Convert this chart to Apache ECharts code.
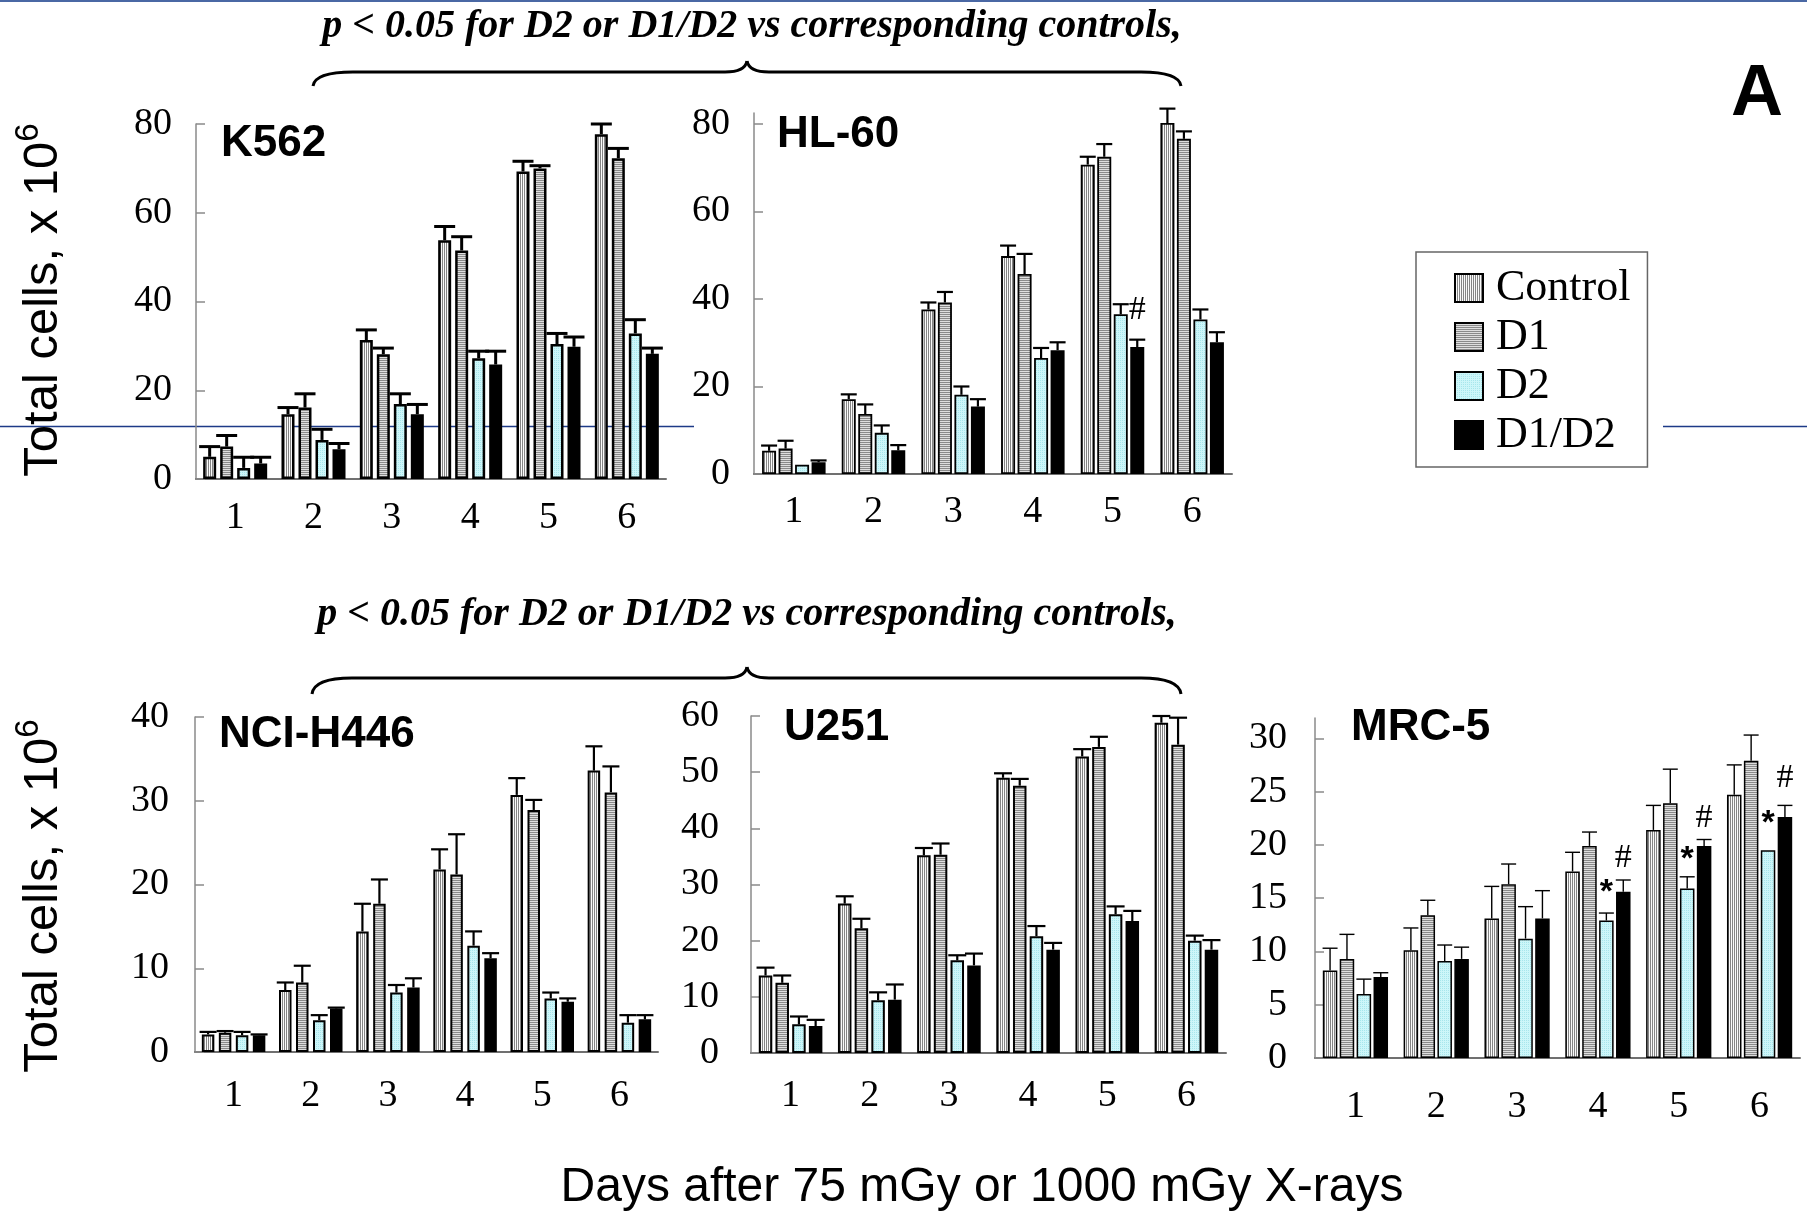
<!DOCTYPE html>
<html>
<head>
<meta charset="utf-8">
<title>Total cells after X-rays</title>
<script src="https://cdn.jsdelivr.net/npm/echarts@6/dist/echarts.min.js"></script>
<style>
  html, body { margin: 0; padding: 0; background: #fff; }
  #chart { width: 1807px; height: 1214px; }
</style>
</head>
<body>
<div id="chart"></div>
<script>
var days = ["1", "2", "3", "4", "5", "6"];
var groups = ["Control", "D1", "D2", "D1/D2"];

// K562
var k562Control = [5.0, 14.6, 31.3, 53.8, 69.3, 77.7];
var k562ControlSd = [2.3, 1.5, 2.3, 3.1, 2.3, 2.3];
var k562D1 = [7.3, 16.1, 28.1, 51.5, 70.0, 72.3];
var k562D1Sd = [2.5, 3.1, 1.4, 3.1, 0.6, 2.2];
var k562D2 = [2.5, 8.8, 16.9, 27.2, 30.4, 32.8];
var k562D2Sd = [2.4, 2.4, 2.3, 1.6, 2.4, 3.1];
var k562D1D2 = [3.5, 6.7, 14.6, 25.8, 29.8, 28.2];
var k562D1D2Sd = [1.4, 1.3, 2.2, 3.0, 2.2, 1.3];

// HL-60
var hl60Control = [5.3, 17.1, 37.6, 49.8, 70.7, 80.2];
var hl60ControlSd = [1.2, 1.1, 1.6, 2.4, 1.8, 3.3];
var hl60D1 = [5.8, 13.7, 39.2, 45.7, 72.5, 76.6];
var hl60D1Sd = [1.8, 2.2, 2.4, 4.6, 2.9, 1.7];
var hl60D2 = [2.1, 9.4, 18.1, 26.5, 36.5, 35.3];
var hl60D2Sd = [0, 1.7, 1.9, 2.3, 2.3, 2.3];
var hl60D1D2 = [2.7, 5.4, 15.4, 28.3, 29.0, 30.1];
var hl60D1D2Sd = [0.4, 1.2, 1.7, 1.8, 1.7, 2.3];
var hl60Marks = [[4, 3, 37.5, "#"]];

// NCI-H446
var nciControl = [2.1, 7.4, 14.4, 21.8, 30.7, 33.6];
var nciControlSd = [0.3, 0.9, 3.3, 2.4, 2.0, 2.9];
var nciD1 = [2.3, 8.3, 17.7, 21.2, 28.9, 31.0];
var nciD1Sd = [0.2, 2.0, 2.9, 4.8, 1.2, 3.1];
var nciD2 = [2.0, 3.8, 7.1, 12.7, 6.4, 3.5];
var nciD2Sd = [0.4, 0.6, 0.9, 1.7, 0.7, 0.9];
var nciD1D2 = [2.0, 5.2, 7.7, 11.2, 6.0, 3.9];
var nciD1D2Sd = [0.1, 0.1, 1.1, 0.6, 0.4, 0.5];

// U251
var u251Control = [13.8, 26.6, 35.2, 49.0, 52.8, 58.8];
var u251ControlSd = [1.4, 1.3, 1.3, 0.8, 1.3, 1.2];
var u251D1 = [12.5, 22.2, 35.3, 47.6, 54.5, 54.9];
var u251D1Sd = [1.3, 1.7, 2.0, 1.2, 1.8, 4.8];
var u251D2 = [5.1, 9.4, 16.5, 20.8, 24.7, 20.0];
var u251D2Sd = [1.4, 1.4, 0.9, 1.8, 1.4, 0.9];
var u251D1D2 = [4.8, 9.5, 15.6, 18.4, 23.5, 18.4];
var u251D1D2Sd = [1.1, 2.7, 2.1, 1.2, 1.8, 1.7];

// MRC-5
var mrc5Control = [8.2, 10.1, 13.1, 17.5, 21.4, 24.7];
var mrc5ControlSd = [2.1, 2.1, 3.0, 1.8, 2.3, 2.8];
var mrc5D1 = [9.3, 13.4, 16.3, 19.9, 23.9, 27.9];
var mrc5D1Sd = [2.3, 1.4, 1.9, 1.3, 3.2, 2.4];
var mrc5D2 = [6.0, 9.1, 11.2, 12.9, 15.9, 19.5];
var mrc5D2Sd = [1.4, 1.5, 3.0, 0.7, 1.1, 0];
var mrc5D1D2 = [7.6, 9.3, 13.1, 15.6, 19.9, 22.6];
var mrc5D1D2Sd = [0.4, 1.1, 2.6, 1.1, 0.6, 1.1];
// [day index, group index, value, text]
var mrc5Marks = [
  [3, 2, 15.5, "*"], [3, 3, 18.8, "#"],
  [4, 2, 18.6, "*"], [4, 3, 22.5, "#"],
  [5, 2, 22.0, "*"], [5, 3, 26.3, "#"]
];

var ticks80 = [0, 20, 40, 60, 80];
var ticks40 = [0, 10, 20, 30, 40];
var ticks60 = [0, 10, 20, 30, 40, 50, 60];
var ticks30 = [0, 5, 10, 15, 20, 25, 30];

var SERIF = "Liberation Serif";
var SANS = "Liberation Sans";

function makePattern(draw) {
  var c = document.createElement("canvas");
  c.width = 2;
  c.height = 2;
  draw(c.getContext("2d"));
  return { image: c, repeat: "repeat" };
}

var fills = [
  makePattern(function (ctx) { // vertical stripes
    ctx.fillStyle = "#fafafa"; ctx.fillRect(0, 0, 2, 2);
    ctx.fillStyle = "#858585"; ctx.fillRect(0, 0, 1, 2);
  }),
  makePattern(function (ctx) { // horizontal stripes
    ctx.fillStyle = "#dedede"; ctx.fillRect(0, 0, 2, 2);
    ctx.fillStyle = "#8a8a8a"; ctx.fillRect(0, 0, 2, 1);
  }),
  makePattern(function (ctx) { // dotted light cyan
    ctx.fillStyle = "#cdf6f9"; ctx.fillRect(0, 0, 2, 2);
    ctx.fillStyle = "#a8e6ec"; ctx.fillRect(0, 0, 1, 1);
  }),
  "#000000"
];

var panels = [
  {
    name: "K562", titlePos: [221, 144],
    means: [k562Control, k562D1, k562D2, k562D1D2],
    sds: [k562ControlSd, k562D1Sd, k562D2Sd, k562D1D2Sd],
    ticks: ticks80, yMax: 80, marks: [],
    grid: { left: 196, top: 124, width: 470, height: 355 },
    barWidth: 13, pitch: 17, border: 2.5, errWidth: 3, capHalf: 10.5, yMargin: 24, xMargin: 20
  },
  {
    name: "HL-60", titlePos: [777, 135],
    means: [hl60Control, hl60D1, hl60D2, hl60D1D2],
    sds: [hl60ControlSd, hl60D1Sd, hl60D2Sd, hl60D1D2Sd],
    ticks: ticks80, yMax: 82.5, marks: hl60Marks,
    grid: { left: 754, top: 113, width: 478, height: 361 },
    barWidth: 14, pitch: 16.5, border: 1.8, errWidth: 2.2, capHalf: 8, yMargin: 24, xMargin: 19
  },
  {
    name: "NCI-H446", titlePos: [219, 735],
    means: [nciControl, nciD1, nciD2, nciD1D2],
    sds: [nciControlSd, nciD1Sd, nciD2Sd, nciD1D2Sd],
    ticks: ticks40, yMax: 40, marks: [],
    grid: { left: 195, top: 717, width: 463, height: 335 },
    barWidth: 12.5, pitch: 17, border: 2, errWidth: 2.2, capHalf: 8.5, yMargin: 26, xMargin: 25
  },
  {
    name: "U251", titlePos: [784, 728],
    means: [u251Control, u251D1, u251D2, u251D1D2],
    sds: [u251ControlSd, u251D1Sd, u251D2Sd, u251D1D2Sd],
    ticks: ticks60, yMax: 60, marks: [],
    grid: { left: 751, top: 716, width: 475, height: 337 },
    barWidth: 13.5, pitch: 16.7, border: 2, errWidth: 2.2, capHalf: 9, yMargin: 32, xMargin: 24
  },
  {
    name: "MRC-5", titlePos: [1351, 728],
    means: [mrc5Control, mrc5D1, mrc5D2, mrc5D1D2],
    sds: [mrc5ControlSd, mrc5D1Sd, mrc5D2Sd, mrc5D1D2Sd],
    ticks: ticks30, yMax: 31.9, marks: mrc5Marks,
    grid: { left: 1315, top: 718, width: 485, height: 340 },
    barWidth: 14.5, pitch: 16.9, border: 1.5, errWidth: 1.4, capHalf: 7.5, yMargin: 28, xMargin: 30
  }
];

var grids = [];
var xAxes = [];
var yAxes = [];
var series = [];
var graphics = [];

panels.forEach(function (p, i) {
  grids.push(p.grid);

  xAxes.push({
    type: "category",
    gridIndex: i,
    data: days,
    axisLine: { lineStyle: { color: "#707070", width: 2 } },
    axisTick: { show: false },
    axisLabel: { color: "#000", fontFamily: SERIF, fontSize: 38, margin: p.xMargin }
  });

  yAxes.push({
    type: "value",
    gridIndex: i,
    min: 0,
    max: p.yMax,
    splitLine: { show: false },
    axisLine: { show: true, lineStyle: { color: "#8a8a8a", width: 1.5 } },
    axisTick: { show: true, inside: true, length: 9, customValues: p.ticks,
      lineStyle: { color: "#8a8a8a", width: 1.5 } },
    axisLabel: { color: "#000", fontFamily: SERIF, fontSize: 38, margin: p.yMargin,
      customValues: p.ticks }
  });

  var gap = ((p.pitch - p.barWidth) / p.barWidth * 100).toFixed(1) + "%";

  groups.forEach(function (g, k) {
    series.push({
      name: g,
      type: "bar",
      xAxisIndex: i,
      yAxisIndex: i,
      data: p.means[k],
      barWidth: p.barWidth,
      barGap: gap,
      itemStyle: { color: fills[k], borderColor: "#000", borderWidth: p.border }
    });
  });

  // error bars (upper side only)
  var errData = [];
  p.means.forEach(function (arr, k) {
    arr.forEach(function (v, d) {
      if (p.sds[k][d] > 0) {
        errData.push([d, v, v + p.sds[k][d], k]);
      }
    });
  });

  series.push({
    type: "custom",
    xAxisIndex: i,
    yAxisIndex: i,
    silent: true,
    z: 3,
    encode: { x: 0, y: [1, 2] },
    data: errData,
    renderItem: function (params, api) {
      var off = (api.value(3) - 1.5) * p.pitch;
      var base = api.coord([api.value(0), api.value(1)]);
      var top = api.coord([api.value(0), api.value(2)]);
      var x = base[0] + off;
      var st = { stroke: "#000", lineWidth: p.errWidth };
      return {
        type: "group",
        children: [
          { type: "line", shape: { x1: x, y1: base[1], x2: x, y2: top[1] }, style: st },
          { type: "line", shape: { x1: x - p.capHalf, y1: top[1], x2: x + p.capHalf, y2: top[1] }, style: st }
        ]
      };
    }
  });

  if (p.marks.length) {
    series.push({
      type: "custom",
      xAxisIndex: i,
      yAxisIndex: i,
      silent: true,
      z: 4,
      encode: { x: 0, y: 2 },
      data: p.marks.map(function (m) { return [m[0], m[1], m[2]]; }),
      renderItem: function (params, api) {
        var pt = api.coord([api.value(0), api.value(2)]);
        var txt = p.marks[params.dataIndex][3];
        var star = txt === "*";
        return {
          type: "text",
          x: pt[0] + (api.value(1) - 1.5) * p.pitch,
          y: pt[1],
          style: {
            text: txt,
            fill: "#000",
            font: star ? "bold 34px 'Liberation Sans'" : "34px 'Liberation Serif'",
            textAlign: "center",
            textVerticalAlign: "middle"
          }
        };
      }
    });
  }

  graphics.push({
    type: "text",
    x: p.titlePos[0],
    y: p.titlePos[1],
    style: {
      text: p.name,
      fill: "#000",
      font: "bold 44px 'Liberation Sans'",
      textAlign: "left",
      textVerticalAlign: "middle"
    }
  });
});

function brace(x1, x2, xc, yEnd, yLine, yPeak) {
  var st = { stroke: "#000", lineWidth: 3, fill: null };
  return [
    { type: "bezierCurve", shape: { x1: x1, y1: yEnd, cpx1: x1 + 2, cpy1: yLine, x2: x1 + 40, y2: yLine }, style: st },
    { type: "line", shape: { x1: x1 + 40, y1: yLine, x2: xc - 22, y2: yLine }, style: st },
    { type: "bezierCurve", shape: { x1: xc - 22, y1: yLine, cpx1: xc - 2, cpy1: yLine, x2: xc, y2: yPeak }, style: st },
    { type: "bezierCurve", shape: { x1: xc, y1: yPeak, cpx1: xc + 2, cpy1: yLine, x2: xc + 22, y2: yLine }, style: st },
    { type: "line", shape: { x1: xc + 22, y1: yLine, x2: x2 - 40, y2: yLine }, style: st },
    { type: "bezierCurve", shape: { x1: x2 - 40, y1: yLine, cpx1: x2 - 2, cpy1: yLine, x2: x2, y2: yEnd }, style: st }
  ];
}

var noteText = "p < 0.05 for D2 or D1/D2 vs corresponding controls,";
var yName = "{a|Total cells, x 10}{b|6}";
var yRich = {
  a: { fontFamily: SANS, fontSize: 49, lineHeight: 56, verticalAlign: "bottom", fill: "#000" },
  b: { fontFamily: SANS, fontSize: 33, lineHeight: 33, verticalAlign: "top", fill: "#000" }
};

graphics = graphics.concat([
  // slide guide lines
  { type: "line", z: -1, shape: { x1: 0, y1: 1, x2: 1807, y2: 1 }, style: { stroke: "#4a68a4", lineWidth: 2 } },
  { type: "line", z: -1, shape: { x1: 0, y1: 426.5, x2: 694, y2: 426.5 }, style: { stroke: "#1d3a87", lineWidth: 1.5 } },
  { type: "line", z: -1, shape: { x1: 1663, y1: 426.5, x2: 1807, y2: 426.5 }, style: { stroke: "#1d3a87", lineWidth: 1.5 } },

  { type: "text", x: 752, y: 27, style: { text: noteText, fill: "#000",
    font: "italic bold 40px 'Liberation Serif'", textAlign: "center", textVerticalAlign: "middle" } },
  { type: "text", x: 747, y: 615, style: { text: noteText, fill: "#000",
    font: "italic bold 40px 'Liberation Serif'", textAlign: "center", textVerticalAlign: "middle" } },

  { type: "text", x: 1757, y: 95, style: { text: "A", fill: "#000",
    font: "bold 72px 'Liberation Sans'", textAlign: "center", textVerticalAlign: "middle" } },

  { type: "text", x: 40, y: 300, rotation: Math.PI / 2, style: { text: yName, rich: yRich,
    textAlign: "center", textVerticalAlign: "middle" } },
  { type: "text", x: 40, y: 896, rotation: Math.PI / 2, style: { text: yName, rich: yRich,
    textAlign: "center", textVerticalAlign: "middle" } },

  { type: "text", x: 982, y: 1188, style: { text: "Days after 75 mGy or 1000 mGy X-rays", fill: "#000",
    font: "48px 'Liberation Sans'", textAlign: "center", textVerticalAlign: "middle" } }
]);
graphics = graphics.concat(brace(313, 1181, 747, 86, 72, 61));
graphics = graphics.concat(brace(312, 1181, 747, 694, 678, 667));

var chart = echarts.init(document.getElementById("chart"), null, { renderer: "canvas" });

var option = {
  backgroundColor: "#ffffff",
  animation: false,
  grid: grids,
  xAxis: xAxes,
  yAxis: yAxes,
  legend: {
    orient: "vertical",
    left: 1416,
    top: 252,
    data: groups,
    icon: "rect",
    itemWidth: 28,
    itemHeight: 28,
    itemGap: 5,
    padding: [14, 17, 10, 38],
    borderColor: "#666",
    borderWidth: 1.5,
    selectedMode: false,
    itemStyle: { borderColor: "#000", borderWidth: 2 },
    textStyle: { color: "#000", fontFamily: SERIF, fontSize: 44, lineHeight: 41, padding: [0, 0, 0, 8] }
  },
  graphic: { elements: graphics },
  series: series
};

chart.setOption(option);
</script>
</body>
</html>
